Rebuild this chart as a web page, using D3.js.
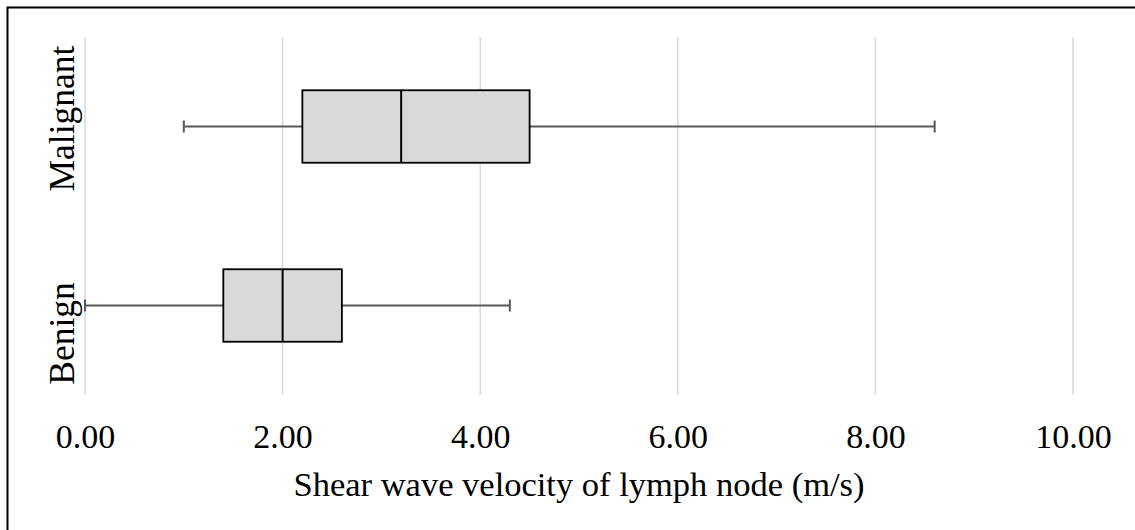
<!DOCTYPE html>
<html>
<head>
<meta charset="utf-8">
<script src="https://cdn.jsdelivr.net/npm/d3@7"></script>
<style>
  html, body { margin: 0; padding: 0; background: #fff; }
  svg { display: block; }
  text { font-family: "Liberation Serif", "Times New Roman", serif; fill: #000; }
</style>
</head>
<body>
<svg id="chart" width="1135" height="530"></svg>
<script>
const categories = ["Malignant", "Benign"];
const mins    = [1.0, 0.0];
const q1s     = [2.2, 1.4];
const medians = [3.2, 2.0];
const q3s     = [4.5, 2.6];
const maxes   = [8.6, 4.3];
const tickValues = [0, 2, 4, 6, 8, 10];
const xTitle = "Shear wave velocity of lymph node (m/s)";

const svg = d3.select("#chart");

// outer frame (extends beyond right/bottom edge as in reference)
svg.append("rect")
  .attr("x", 7.5).attr("y", 7.5)
  .attr("width", 1140).attr("height", 540)
  .attr("fill", "none").attr("stroke", "#000").attr("stroke-width", 2);

const plot = { left: 85, right: 1073, top: 37, bottom: 395 };

const x = d3.scaleLinear().domain([0, 10]).range([plot.left, plot.right]);
const y = d3.scaleBand().domain(categories).range([plot.top, plot.bottom]);

// gridlines
svg.append("g").selectAll("line")
  .data(tickValues).join("line")
  .attr("x1", d => x(d)).attr("x2", d => x(d))
  .attr("y1", plot.top).attr("y2", plot.bottom)
  .attr("stroke", "#d9d9d9").attr("stroke-width", 1.5);

// x axis tick labels via d3 axis
const xAxis = d3.axisBottom(x).tickValues(tickValues)
  .tickFormat(d3.format(".2f")).tickSize(0).tickPadding(0);
const gx = svg.append("g").attr("transform", `translate(0,${plot.bottom})`).call(xAxis);
gx.attr("font-family", '"Liberation Serif", "Times New Roman", serif');
gx.select(".domain").remove();
gx.selectAll("text")
  .attr("dy", null).attr("y", 53)
  .style("font-family", '"Liberation Serif", "Times New Roman", serif')
  .style("font-size", "34px").attr("fill", "#000");

// axis title
svg.append("text")
  .attr("x", (plot.left + plot.right) / 2).attr("y", 496)
  .attr("text-anchor", "middle")
  .style("font-size", "34.5px")
  .text(xTitle);

// category labels
const labelOffsets = [-8, 28];
svg.append("g").selectAll("text")
  .data(categories).join("text")
  .attr("transform", (d, i) => `translate(74,${y(d) + y.bandwidth() / 2 + labelOffsets[i]}) rotate(-90)`)
  .attr("text-anchor", "middle")
  .style("font-size", "35.5px")
  .text(d => d);

const rows = categories.map((c, i) => ({
  cat: c, min: mins[i], q1: q1s[i], med: medians[i], q3: q3s[i], max: maxes[i]
}));

const boxH = y.bandwidth() * 0.405;
const capH = 12;
const g = svg.append("g").selectAll("g").data(rows).join("g")
  .attr("transform", d => `translate(0,${y(d.cat) + y.bandwidth() / 2})`);

// whiskers
g.append("line")
  .attr("x1", d => x(d.min)).attr("x2", d => x(d.q1))
  .attr("y1", 0).attr("y2", 0)
  .attr("stroke", "#595959").attr("stroke-width", 1.8);
g.append("line")
  .attr("x1", d => x(d.q3)).attr("x2", d => x(d.max))
  .attr("y1", 0).attr("y2", 0)
  .attr("stroke", "#595959").attr("stroke-width", 1.8);
// caps
g.append("line")
  .attr("x1", d => x(d.min)).attr("x2", d => x(d.min))
  .attr("y1", -capH / 2).attr("y2", capH / 2)
  .attr("stroke", "#595959").attr("stroke-width", 2);
g.append("line")
  .attr("x1", d => x(d.max)).attr("x2", d => x(d.max))
  .attr("y1", -capH / 2).attr("y2", capH / 2)
  .attr("stroke", "#595959").attr("stroke-width", 2);

// boxes
g.append("rect")
  .attr("x", d => x(d.q1)).attr("width", d => x(d.q3) - x(d.q1))
  .attr("y", -boxH / 2).attr("height", boxH)
  .attr("fill", "#d9d9d9").attr("stroke", "#000").attr("stroke-width", 1.8);
// medians
g.append("line")
  .attr("x1", d => x(d.med)).attr("x2", d => x(d.med))
  .attr("y1", -boxH / 2).attr("y2", boxH / 2)
  .attr("stroke", "#000").attr("stroke-width", 2);
</script>
</body>
</html>
